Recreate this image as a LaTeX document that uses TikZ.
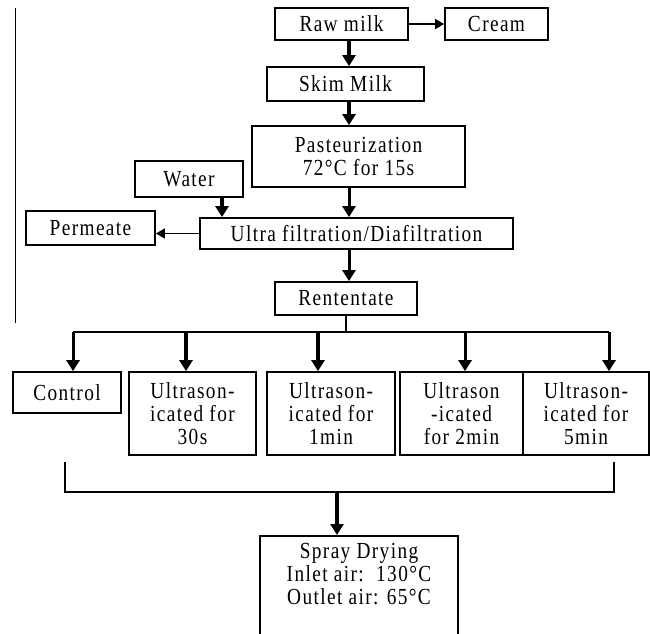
\documentclass[tikz,border=0pt]{standalone}
\usepackage{fontspec}
\setmainfont{Liberation Serif}[FakeStretch=0.84,LetterSpace=6]
\usetikzlibrary{arrows.meta,positioning}
\tikzset{
  flow/.style={-{Triangle[length=11pt,width=13pt]},line width=3pt},
  flowheavy/.style={flow,line width=4.5pt},
  flowthin/.style={-{Triangle[length=9pt,width=10pt]},line width=1.5pt},
  rail/.style={line width=1.8pt},
  stagebox/.style={draw,line width=1.8pt,inner sep=2pt,align=center,
                   font=\fontsize{23}{23}\selectfont},
  stagetext/.style={inner sep=0pt,align=center,font=\fontsize{23}{23}\selectfont},
}

\begin{document}
\begin{tikzpicture}[x=1pt,y=-1pt]
    \useasboundingbox (0,0) rectangle (650,633);
    \clip (0,0) rectangle (650,633);
    \coordinate (axis) at (349,0);
    \coordinate (wx)   at (222,0);

    % main line of the process
    \node[stagebox,minimum width=133pt,minimum height=32pt] (raw)   at (341.5,24)  {Raw milk};
    \node[stagebox,minimum width=103pt,minimum height=32pt] (cream) at (496.5,24)  {Cream};
    \node[stagebox,minimum width=157pt,minimum height=34pt] (skim)  at (345.5,84)  {Skim Milk};
    \node[stagebox,minimum width=213pt,minimum height=61pt] (past)  at (358.5,156.5) {Pasteurization\\72°C for 15s};
    \node[stagebox,minimum width=108pt,minimum height=36pt] (water) at (189,179)   {Water};
    \node[stagebox,minimum width=129pt,minimum height=34pt] (perm)  at (90.5,228)  {Permeate};
    \node[stagebox,minimum width=313pt,minimum height=31pt] (uf)    at (356.5,233.5) {Ultra filtration/Diafiltration};
    \node[stagebox,minimum width=142pt,minimum height=33pt] (rent)  at (346,298.5) {Rententate};

    % five treatments
    \node[stagebox,minimum width=108pt,minimum height=41pt] (ctrl) at (67,392.5)    {Control};
    \node[stagebox,minimum width=127pt,minimum height=83pt] (u30)  at (192.5,413.5) {Ultrason-\\icated for\\30s};
    \node[stagebox,minimum width=128pt,minimum height=83pt] (u1)   at (331,413.5)   {Ultrason-\\icated for\\1min};
    \node[stagebox,minimum width=123pt,minimum height=83pt] (u2)   at (461.5,413.5) {Ultrason\\-icated\\for 2min};
    \node[stagebox,minimum width=126pt,minimum height=83pt] (u5)   at (586,413.5)   {Ultrason-\\icated for\\5min};

    \node[stagebox,minimum width=198pt,minimum height=120pt,anchor=north] (spray) at (359,535) {};
    \node[stagetext,below=8pt of spray.north] (spraytext) {Spray Drying\\Inlet air:\ \ 130°C\\Outlet air: 65°C};

    % margin rule
    \draw[line width=1pt] (15,8) -- (15,323);

    \draw[flowthin] (raw) -- (cream);
    \draw[flow,line width=3.5pt] (raw.south -| axis)  -- (skim.north -| axis);
    \draw[flow,line width=3.5pt] (skim.south -| axis) -- (past.north -| axis);
    \draw[flow] (past.south -| axis) -- (uf.north -| axis);
    \draw[flowheavy] (water.south -| wx) -- (uf.north -| wx);
    \draw[flowthin] (uf.west) -- (perm.east |- uf.west);
    \draw[flow] (uf.south -| axis)   -- (rent.north -| axis);

    % split into treatments
    \coordinate (b1) at (73,332);
    \coordinate (b2) at (186,332);
    \coordinate (b3) at (318,332);
    \coordinate (b4) at (465,332);
    \coordinate (b5) at (609,332);
    \draw[rail] (b1) -- (b5) (rent.south) -- (rent.south |- b1);
    \foreach \b/\n/\s in {b1/ctrl/flow,b2/u30/flowheavy,b3/u1/flowheavy,b4/u2/flow,b5/u5/flow}{
      \draw[\s] (\b) -- (\n.north -| \b);
    }

    % join and dry
    \coordinate (jl)   at (65,462);
    \coordinate (jr)   at (614,462);
    \coordinate (jbar) at (337,492);
    \draw[rail] (jl) |- (jbar) -| (jr);
    \draw[flow,line width=3.5pt] (jbar) -- (spray.north -| jbar);
\end{tikzpicture}
\end{document}
